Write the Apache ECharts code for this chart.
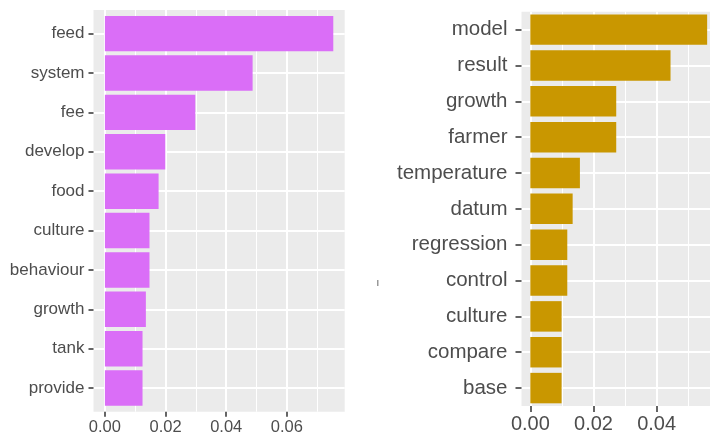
<!DOCTYPE html>
<html>
<head>
<meta charset="utf-8">
<script src="https://cdn.jsdelivr.net/npm/echarts@6/dist/echarts.min.js"></script>
<style>
  html, body { margin: 0; padding: 0; background: #fff; }
  #chart { width: 710px; height: 438px; }
</style>
</head>
<body>
<div id="chart"></div>
<script>
// left panel: top terms, pink
const leftTerms = ['feed', 'system', 'fee', 'develop', 'food', 'culture', 'behaviour', 'growth', 'tank', 'provide']
const leftValues = [0.0753, 0.0487, 0.0298, 0.0199, 0.0177, 0.0147, 0.0147, 0.0135, 0.0124, 0.0124]
const leftTicks = [0, 0.02, 0.04, 0.06]
const leftMinor = [0.01, 0.03, 0.05, 0.07]

// right panel: top terms, gold
const rightTerms = ['model', 'result', 'growth', 'farmer', 'temperature', 'datum', 'regression', 'control', 'culture', 'compare', 'base']
const rightValues = [0.056, 0.0444, 0.0272, 0.0272, 0.0157, 0.0134, 0.0117, 0.0117, 0.0099, 0.0099, 0.0099]
const rightTicks = [0, 0.02, 0.04, 0.06]
const rightMinor = [0.01, 0.03, 0.05]

const FONT = '"Liberation Sans", Arial, sans-serif'
const TEXT = '#4d4d4d'
const PANEL_BG = '#ebebeb'
const NO_LINE = { show: false, onZero: false }

// builds one ggplot-like facet: a "frame" grid for background, gridlines and ticks,
// and an "inner" grid holding the bars on the discrete band region
function buildPanel(cfg, gi) {
  const n = cfg.terms.length
  const vmax = Math.max(...cfg.values)
  const xmin = -0.05 * vmax
  const xmax = 1.05 * vmax
  const unit = cfg.height / (n - 1 + 2 * cfg.expand)
  const innerTop = cfg.top + (cfg.expand - 0.5) * unit
  const tickStyle = { color: '#333', width: 1.5 }

  const grids = [
    {
      left: cfg.left, top: cfg.top, width: cfg.width, height: cfg.height,
      show: true, backgroundColor: PANEL_BG, borderWidth: 0,
      outerBoundsMode: 'none'
    },
    {
      left: cfg.left, top: innerTop, width: cfg.width, height: unit * n,
      outerBoundsMode: 'none'
    }
  ]

  const xAxes = [
    {
      gridIndex: gi, type: 'value', min: xmin, max: xmax, position: 'bottom',
      axisLine: NO_LINE,
      axisTick: { show: true, customValues: cfg.ticks, length: cfg.tickLen, lineStyle: tickStyle },
      axisLabel: {
        customValues: cfg.ticks, margin: cfg.xLabelMargin,
        color: TEXT, fontFamily: FONT, fontSize: cfg.xFont,
        formatter: v => v.toFixed(2)
      },
      splitLine: { lineStyle: { color: '#fff', width: 2 } }
    },
    {
      gridIndex: gi, type: 'value', min: xmin, max: xmax, position: 'bottom',
      axisLine: NO_LINE,
      axisTick: { show: false, customValues: cfg.minor },
      axisLabel: { show: false },
      splitLine: { lineStyle: { color: '#fff', width: 1 } }
    },
    {
      gridIndex: gi + 1, type: 'value', min: xmin, max: xmax, show: false,
      axisLine: NO_LINE
    }
  ]

  const yAxes = [
    {
      gridIndex: gi, type: 'value', inverse: true, position: 'left',
      min: -cfg.expand, max: n - 1 + cfg.expand,
      axisLine: NO_LINE,
      axisTick: { customValues: cfg.terms.map((t, i) => i), length: cfg.tickLen, lineStyle: tickStyle },
      axisLabel: { show: false },
      splitLine: { lineStyle: { color: '#fff', width: 2 } }
    },
    {
      gridIndex: gi + 1, type: 'category', inverse: true, data: cfg.terms, position: 'left',
      axisLine: NO_LINE,
      axisTick: { show: false },
      axisLabel: {
        interval: 0, margin: cfg.yLabelMargin,
        color: TEXT, fontFamily: FONT, fontSize: cfg.yFont
      },
      splitLine: { show: false }
    }
  ]

  const series = [{
    type: 'bar',
    xAxisIndex: gi === 0 ? 2 : 5,
    yAxisIndex: gi === 0 ? 1 : 3,
    data: cfg.values,
    barCategoryGap: cfg.gap,
    itemStyle: { color: cfg.color },
    z: 3
  }]

  return { grids, xAxes, yAxes, series }
}

const left = buildPanel({
  terms: leftTerms, values: leftValues, ticks: leftTicks, minor: leftMinor,
  left: 93.5, top: 10, width: 251.2, height: 401.7, expand: 0.6,
  color: '#da6ef7', gap: '10%',
  tickLen: 5, xLabelMargin: 7, yLabelMargin: 9, xFont: 16.5, yFont: 17
}, 0)

const right = buildPanel({
  terms: rightTerms, values: rightValues, ticks: rightTicks, minor: rightMinor,
  left: 521.5, top: 11.7, width: 194.5, height: 394.3, expand: 0.5,
  color: '#c99700', gap: '15%',
  tickLen: 6, xLabelMargin: 8, yLabelMargin: 14, xFont: 20, yFont: 20.5
}, 2)

const chart = echarts.init(document.getElementById('chart'), null, { renderer: 'canvas' })
chart.setOption({
  backgroundColor: '#fff',
  animation: false,
  grid: [...left.grids, ...right.grids],
  xAxis: [...left.xAxes, ...right.xAxes],
  yAxis: [...left.yAxes, ...right.yAxes],
  series: [...left.series, ...right.series],
  graphic: [
    // stray clipped glyph left of the right facet
    { type: 'rect', left: 377, top: 280, shape: { width: 1.5, height: 6 }, style: { fill: '#999' } }
  ]
})
</script>
</body>
</html>
